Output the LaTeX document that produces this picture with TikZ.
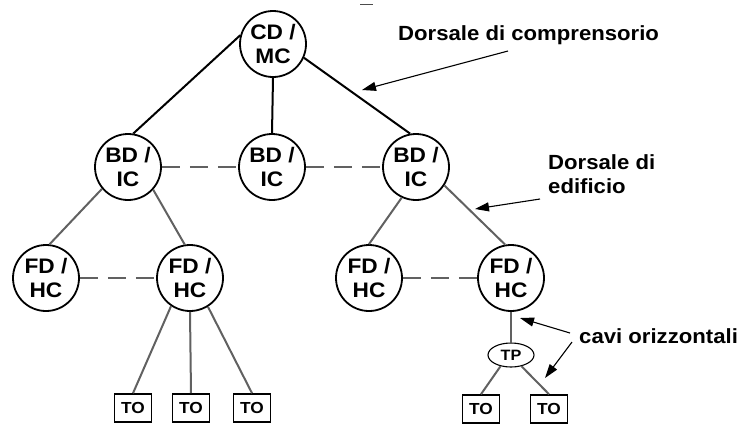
\documentclass[tikz,border=0pt]{standalone}
\usepackage{fontspec}
\setmainfont[FakeStretch=1.08]{Liberation Sans}
\usetikzlibrary{arrows.meta,shapes.geometric}
\definecolor{branchgray}{gray}{0.38}
\begin{document}
\begin{tikzpicture}[x=1pt,y=-1pt,
  hub/.style={circle,draw,line width=1.8pt,minimum size=66pt,inner sep=0pt,align=center,
    font=\fontsize{21}{24}\selectfont\bfseries},
  tobox/.style={draw,line width=1.6pt,minimum width=37pt,minimum height=28pt,inner sep=0pt,
    font=\fontsize{16}{18}\selectfont\bfseries},
  tpell/.style={ellipse,draw,line width=1.1pt,minimum width=46pt,minimum height=24pt,inner sep=0pt,
    font=\fontsize{15}{17}\selectfont\bfseries},
  backbone/.style={line width=2pt,black},
  branch/.style={line width=2pt,branchgray},
  link/.style={line width=2pt,branchgray,dash pattern=on 18pt off 10pt},
  lbl/.style={inner sep=0pt,align=left,font=\fontsize{20.5}{24}\selectfont\bfseries},
  pointer/.style={-{Triangle[length=14pt,width=9pt]},line width=1.1pt,black}
]
\useasboundingbox (0,0) rectangle (744,424);

% hubs
\node[hub] (cd) at (273,44) {CD /\\MC};
\node[hub] (bdl) at (128,167) {BD /\\IC};
\node[hub] (bdm) at (272,167) {BD /\\IC};
\node[hub] (bdr) at (416,167) {BD /\\IC};
\node[hub] (fd1) at (46,278) {FD /\\HC};
\node[hub] (fd2) at (190,278) {FD /\\HC};
\node[hub] (fd3) at (369,278) {FD /\\HC};
\node[hub] (fd4) at (511,278) {FD /\\HC};

% outlets
\node[tobox] (to1) at (133,408) {TO};
\node[tobox] (to2) at (191,408) {TO};
\node[tobox] (to3) at (252,408) {TO};
\node[tpell] (tp) at (511,355) {TP};
\node[tobox] (to4) at (481,409) {TO};
\node[tobox] (to5) at (549,409) {TO};

% campus backbone
\draw[backbone] (cd.165) -- (bdl.81);
\draw[backbone] (cd.south) -- (bdm.north);
\draw[backbone] (cd.-24) -- (bdr.100);

% building backbone
\draw[branch] (bdl.-140) -- (fd1.84);
\draw[branch] (bdl.-42) -- (fd2.99);
\draw[branch] (bdr.-115) -- (fd3.90);
\draw[branch] (bdr.-33) -- (fd4.100);

% dashed links
\draw[link] (bdl.east) -- (bdm.west);
\draw[link] (bdm.east) -- (bdr.west);
\draw[link] (fd1.east) -- (fd2.west);
\draw[link] (fd3.east) -- (fd4.west);

% horizontal cabling
\draw[branch] (fd2.-124) -- (to1.north);
\draw[branch] (fd2.south) -- (to2.north);
\draw[branch] (fd2.-58) -- (to3.north);
\draw[branch] (fd4.south) -- (tp.north);
\draw[branch] (tp.-133) -- (to4.north);
\draw[branch] (tp.-47) -- (to5.north);

% labels
\node[lbl,anchor=base west] (lcamp) at (398,40) {Dorsale di comprensorio};
\node[lbl,anchor=base west] (lbuild) at (548,193) {Dorsale di\\edificio};
\node[lbl,anchor=base west] (lhoriz) at (579,343) {cavi orizzontali};

\coordinate (a1s) at (508,51);
\coordinate (a1e) at (362,90);
\coordinate (a2s) at (540,199);
\coordinate (a2e) at (475,209);
\coordinate (a3s) at (570,333);
\coordinate (a3e) at (520,318);
\coordinate (a4s) at (572,342);
\coordinate (a4e) at (545,378);
\draw[pointer] (a1s) -- (a1e);
\draw[pointer] (a2s) -- (a2e);
\draw[pointer] (a3s) -- (a3e);
\draw[pointer] (a4s) -- (a4e);

% stray mark at top
\coordinate (m1) at (360,4);
\coordinate (m2) at (373,4);
\draw[line width=1pt,black!70] (m1) -- (m2);
\end{tikzpicture}
\end{document}
